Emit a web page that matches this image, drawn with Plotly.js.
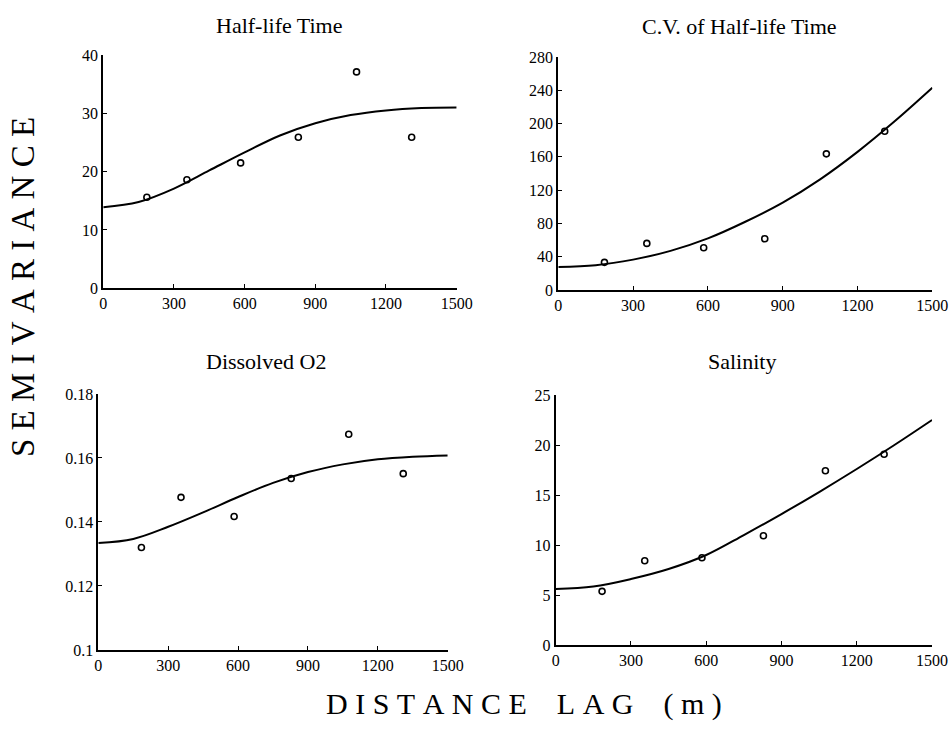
<!DOCTYPE html>
<html>
<head>
<meta charset="utf-8">
<script src="https://cdn.plot.ly/plotly-3.0.1.min.js"></script>
<style>html,body{margin:0;padding:0;background:#fff;}</style>
</head>
<body>
<div id="chart" style="width:950px;height:747px;"></div>
<script>
// ---- data ----
const lag = [185, 355, 583, 828, 1075, 1309];
const halfLife = [15.6, 18.6, 21.5, 25.9, 37.1, 25.9];
const cvHalfLife = [33.2, 56, 50.8, 61.6, 163.6, 190.8];
const dissolvedO2 = [0.1320, 0.1477, 0.1417, 0.1536, 0.1674, 0.1551];
const salinity = [5.37, 8.43, 8.73, 10.93, 17.43, 19.07];

// fitted model curves, read at these lags
const fitLag = [0, 150, 300, 450, 600, 750, 900, 1050, 1200, 1350, 1500];
const halfLifeFit = [13.9, 14.8, 17.1, 20.2, 23.3, 26.2, 28.3, 29.7, 30.5, 30.9, 31.0];
const cvHalfLifeFit = [27.6, 29.8, 36.5, 47, 62, 82, 105, 133, 166, 203, 243];
const dissolvedO2Fit = [0.1334, 0.1347, 0.1385, 0.1430, 0.1478, 0.1522, 0.1556, 0.1580, 0.1596, 0.1604, 0.1608];
const salinityFit = [5.6, 5.85, 6.6, 7.6, 9.0, 11.0, 13.1, 15.3, 17.6, 20.0, 22.5];

const panelTitles = ["Half-life Time", "C.V. of Half-life Time", "Dissolved O2", "Salinity"];
const yAxisTitle = "SEMIVARIANCE";
const xAxisWords = ["DISTANCE", "LAG", "(m)"];
const xTicks = [0, 300, 600, 900, 1200, 1500];

const serif = "Liberation Serif";
const points = [halfLife, cvHalfLife, dissolvedO2, salinity];
const fits = [halfLifeFit, cvHalfLifeFit, dissolvedO2Fit, salinityFit];
const axIds = ["", "2", "3", "4"];

const traces = [];
points.forEach((p, i) => {
  traces.push({
    x: fitLag, y: fits[i], type: "scatter", mode: "lines",
    line: {color: "black", width: 2, shape: "spline", smoothing: 1},
    xaxis: "x" + axIds[i], yaxis: "y" + axIds[i], hoverinfo: "skip"
  });
  traces.push({
    x: lag, y: p, type: "scatter", mode: "markers",
    marker: {symbol: "circle-open", size: 6, color: "black", line: {width: 1.6, color: "black"}},
    xaxis: "x" + axIds[i], yaxis: "y" + axIds[i], cliponaxis: false
  });
});

function xa(domain, anchor) {
  return {
    domain: domain, anchor: anchor, range: [0, 1500],
    tickmode: "array", tickvals: xTicks, ticktext: xTicks.map(String),
    showline: true, linecolor: "black", linewidth: 2, showgrid: false, zeroline: false,
    ticks: "inside", ticklen: 4, tickwidth: 1, tickcolor: "black",
    tickfont: {family: serif, size: 16, color: "black"}, fixedrange: true
  };
}
function ya(domain, anchor, range, dtick) {
  return {
    domain: domain, anchor: anchor, range: range, tickmode: "linear", tick0: range[0], dtick: dtick,
    showline: true, linecolor: "black", linewidth: 2, showgrid: false, zeroline: false,
    ticks: "inside", ticklen: 4, tickwidth: 1, tickcolor: "black",
    tickfont: {family: serif, size: 16, color: "black"}, fixedrange: true
  };
}

const NB = "\u00A0";
const spaced = w => w.split("").join(NB);

const titlePos = [[0.2937, 0.9665], [0.7779, 0.9639], [0.2800, 0.5167], [0.7811, 0.5167]];
const annotations = panelTitles.map((t, i) => ({
  text: t, x: titlePos[i][0], y: titlePos[i][1], xref: "paper", yref: "paper",
  xanchor: "center", yanchor: "middle", showarrow: false,
  font: {family: serif, size: 22, color: "black"}
}));
annotations.push({
  text: spaced(yAxisTitle),
  x: 0.0242, y: 0.6158, xref: "paper", yref: "paper", textangle: -90,
  xanchor: "center", yanchor: "middle", showarrow: false,
  font: {family: serif, size: 33, color: "black"}
});
annotations.push({
  text: xAxisWords.map(spaced).join(NB + NB + NB + NB),
  x: 0.5516, y: 0.0576, xref: "paper", yref: "paper",
  xanchor: "center", yanchor: "middle", showarrow: false,
  font: {family: serif, size: 30, color: "black"}
});

const layout = {
  width: 950, height: 747, margin: {l: 0, r: 0, t: 0, b: 0},
  font: {family: serif, size: 16, color: "black"},
  paper_bgcolor: "white", plot_bgcolor: "white", showlegend: false,
  xaxis: xa([0.1087, 0.4807], "y"),
  yaxis: ya([0.6141, 0.9264], "x", [0, 40], 10),
  xaxis2: xa([0.5877, 0.9814], "y2"),
  yaxis2: ya([0.6118, 0.9237], "x2", [0, 280], 40),
  xaxis3: xa([0.1035, 0.4713], "y3"),
  yaxis3: ya([0.1299, 0.4726], "x3", [0.1, 0.18], 0.02),
  xaxis4: xa([0.5849, 0.9811], "y4"),
  yaxis4: ya([0.1365, 0.4712], "x4", [0, 25], 5),
  annotations: annotations
};

Plotly.newPlot("chart", traces, layout, {displayModeBar: false, staticPlot: true});
</script>
</body>
</html>
